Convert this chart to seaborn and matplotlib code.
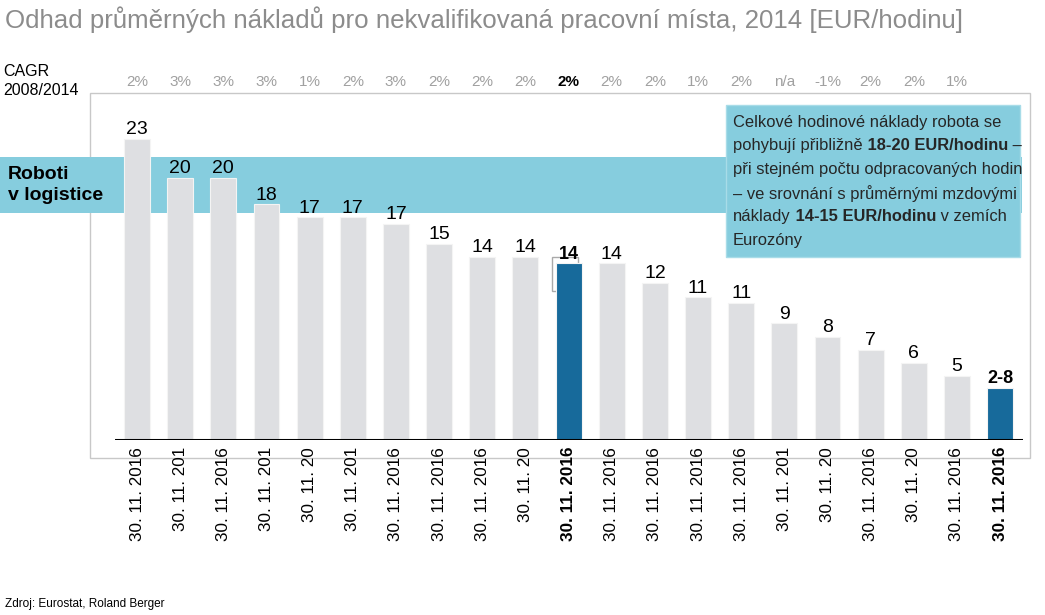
import pandas as pd
import seaborn as sns
import matplotlib.pyplot as plt
from matplotlib.patches import Rectangle
from matplotlib.text import Annotation

# data
values = [23, 20, 20, 18, 17, 17, 16.5, 15, 14, 14, 13.5, 13.5, 12, 10.9, 10.5, 8.9, 7.9, 6.9, 5.9, 4.9, 4.0]
value_labels = ["23", "20", "20", "18", "17", "17", "17", "15", "14", "14", "14", "14",
                "12", "11", "11", "9", "8", "7", "6", "5", "2-8"]
cagr = ["2%", "3%", "3%", "3%", "1%", "2%", "3%", "2%", "2%", "2%", "2%", "2%",
        "2%", "1%", "2%", "n/a", "-1%", "2%", "2%", "1%"]
tick_labels = ["30. 11. 2016", "30. 11. 201", "30. 11. 2016", "30. 11. 201", "30. 11. 20",
               "30. 11. 201", "30. 11. 2016", "30. 11. 2016", "30. 11. 2016", "30. 11. 20",
               "30. 11. 2016", "30. 11. 2016", "30. 11. 2016", "30. 11. 2016", "30. 11. 2016",
               "30. 11. 201", "30. 11. 20", "30. 11. 2016", "30. 11. 20", "30. 11. 2016",
               "30. 11. 2016"]
highlight = [10, 20]

df = pd.DataFrame({"pos": range(len(values)), "value": values})
df["kind"] = ["blue" if i in highlight else "grey" for i in df["pos"]]

sns.set_theme(style="white")
plt.rcParams["font.family"] = ["Liberation Sans", "DejaVu Sans"]

W, H = 1045, 615
fig = plt.figure(figsize=(W / 100, H / 100), dpi=100)
ax = fig.add_axes([115 / W, 1 - 440 / H, (1023 - 115) / W, (440 - 93) / H])
ax.set_facecolor("none")

BAND = "#86CDDE"
GREY = "#DEDFE2"
BLUE = "#176A9B"

# frame, band, callout box (figure level)
fig.add_artist(Rectangle((90 / W, 1 - 458 / H), 940 / W, 365 / H, fill=False,
                         ec="#C8C8C8", lw=1, transform=fig.transFigure, zorder=-2))
fig.add_artist(Rectangle((0, 1 - 213 / H), 1022 / W, 56 / H, fc=BAND, ec="none",
                         transform=fig.transFigure, zorder=-1))
fig.add_artist(Rectangle((726 / W, 1 - 257 / H), 294 / W, 152 / H, fc=BAND, ec="#A8DCE8",
                         lw=1, transform=fig.transFigure, zorder=5))

ax.add_patch(Rectangle((9.62, 11.4), 0.6, 2.57, fill=False, ec="#AAAAAA", lw=1, zorder=0))

sns.barplot(data=df, x="pos", y="value", hue="kind", palette={"grey": GREY, "blue": BLUE},
            width=0.6, dodge=False, legend=False, saturation=1, edgecolor="#F4F4F4",
            linewidth=0.8, ax=ax, zorder=2)

ax.set_xlim(-0.51, 20.53)
ax.set_ylim(0, 26.5)
ax.axhline(0, color="black", lw=2.2, zorder=3)
for s in ax.spines.values():
    s.set_visible(False)
ax.set_yticks([])
ax.set_xlabel("")
ax.set_ylabel("")

ax.set_xticks(range(len(values)))
ax.set_xticklabels(tick_labels, rotation=90, fontsize=12.3)
ax.tick_params(axis="x", length=0, pad=5, colors="black")
for i, t in enumerate(ax.get_xticklabels()):
    if i in highlight:
        t.set_fontweight("bold")

for i, (v, lab) in enumerate(zip(values, value_labels)):
    bold = i in highlight
    ax.text(i, v + 0.05, lab, ha="center", va="bottom", fontsize=13 if bold else 14,
            fontweight="bold" if bold else "normal", color="black", zorder=4)

for i, c in enumerate(cagr):
    bold = i in highlight
    ax.text(i, (440 - 82) / 347, c, transform=ax.get_xaxis_transform(), ha="center",
            va="center", fontsize=11, color="black" if bold else "#A0A0A0",
            fontweight="bold" if bold else "normal")

fig.text(5 / W, 1 - 20 / H, "Odhad průměrných nákladů pro nekvalifikovaná pracovní místa, 2014 [EUR/hodinu]",
         fontsize=18.6, color="#8C8C8C", va="center", ha="left")
fig.text(3 / W, 1 - 81 / H, "CAGR\n2008/2014", fontsize=11.5, color="black", va="center",
         ha="left", linespacing=1.35)
fig.text(8 / W, 1 - 185 / H, "Roboti\nv logistice", fontsize=14, fontweight="bold",
         color="black", va="center", ha="left", linespacing=1.35, zorder=6)
fig.text(5 / W, 1 - 604 / H, "Zdroj: Eurostat, Roland Berger", fontsize=8.5, color="black",
         va="center", ha="left")

callout = [
    [("Celkové hodinové náklady robota se", "normal")],
    [("pohybují přibližně", "normal"), (" 18-20 EUR/hodinu", "bold"), (" –", "normal")],
    [("při stejném počtu odpracovaných hodin", "normal")],
    [("– ve srovnání s průměrnými mzdovými", "normal")],
    [("náklady", "normal"), (" 14-15 EUR/hodinu", "bold"), (" v zemích", "normal")],
    [("Eurozóny", "normal")],
]
y0 = 122
for k, parts in enumerate(callout):
    y = y0 + k * 23.7
    first, w = parts[0]
    t = fig.text(733 / W, 1 - y / H, first, fontsize=11.9, fontweight=w, va="center",
                 ha="left", zorder=6)
    for s, w in parts[1:]:
        a = Annotation(s, xy=(1, 0), xycoords=t, xytext=(0, 0), textcoords="offset points",
                       va="bottom", ha="left", fontsize=11.9, fontweight=w, zorder=6)
        fig.add_artist(a)
        t = a

fig.savefig("out.png", dpi=100)
